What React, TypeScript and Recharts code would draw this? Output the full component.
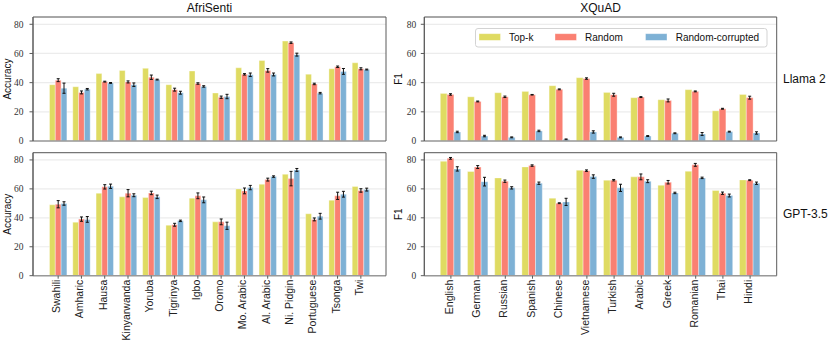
import React from 'react';
import { BarChart, Bar, XAxis, YAxis, CartesianGrid, ErrorBar } from 'recharts';

const afriLangs = ['Swahili', 'Amharic', 'Hausa', 'Kinyarwanda', 'Yoruba', 'Tigrinya', 'Igbo', 'Oromo', 'Mo. Arabic', 'Al. Arabic', 'Ni. Pidgin', 'Portuguese', 'Tsonga', 'Twi'];
const xquadLangs = ['English', 'German', 'Russian', 'Spanish', 'Chinese', 'Vietnamese', 'Turkish', 'Arabic', 'Greek', 'Romanian', 'Thai', 'Hindi'];
const yTicks = [0, 20, 40, 60, 80];
const seriesNames = ['Top-k', 'Random', 'Random-corrupted'];

const llamaAfriTopk = [38.6, 37.2, 46.2, 48.3, 49.8, 38.6, 48.0, 32.9, 50.2, 55.2, 68.5, 45.8, 49.5, 53.6];
const llamaAfriRandom = [41.7, 33.3, 40.7, 40.5, 43.7, 35.2, 39.4, 30.0, 45.7, 48.4, 67.4, 39.1, 50.9, 49.5];
const llamaAfriRandomErr = [1.0, 1.0, 0.3, 0.7, 1.5, 1.0, 0.5, 0.8, 0.5, 1.2, 0.5, 0.5, 0.5, 0.7];
const llamaAfriCorrupted = [36.2, 35.5, 39.8, 38.6, 42.1, 33.1, 37.4, 30.5, 45.4, 45.6, 59.2, 32.8, 47.7, 49.0];
const llamaAfriCorruptedErr = [3.5, 0.5, 0.3, 1.2, 0.3, 1.0, 0.5, 1.5, 1.2, 1.0, 1.0, 0.5, 2.0, 0.3];

const gptAfriTopk = [49.0, 37.0, 57.0, 54.5, 54.0, 34.9, 53.6, 37.2, 60.0, 63.2, 70.1, 42.8, 52.2, 61.6];
const gptAfriRandom = [49.4, 39.1, 61.4, 57.0, 57.2, 35.2, 55.2, 37.2, 58.6, 66.4, 67.1, 38.9, 55.2, 58.9];
const gptAfriRandomErr = [2.5, 1.5, 1.5, 2.5, 1.2, 1.0, 2.0, 2.0, 2.0, 1.0, 5.0, 1.0, 2.5, 1.2];
const gptAfriCorrupted = [49.9, 38.9, 61.8, 55.6, 54.5, 37.9, 52.4, 34.5, 60.9, 68.5, 73.1, 41.1, 56.3, 59.5];
const gptAfriCorruptedErr = [1.2, 2.0, 1.5, 1.0, 1.2, 0.5, 2.0, 2.5, 1.5, 0.5, 1.0, 2.0, 2.0, 1.0];

const llamaXqTopk = [32.6, 30.3, 33.1, 34.0, 37.9, 43.4, 33.3, 29.7, 28.3, 35.2, 20.7, 31.9];
const llamaXqRandom = [31.9, 27.1, 30.3, 31.7, 35.4, 42.8, 31.7, 30.1, 27.8, 34.0, 22.1, 29.7];
const llamaXqRandomErr = [0.5, 0.3, 0.5, 0.2, 0.3, 0.5, 1.0, 0.3, 1.0, 0.3, 0.3, 1.0];
const llamaXqCorrupted = [6.2, 3.4, 2.5, 6.9, 1.1, 6.2, 2.5, 3.4, 5.3, 4.8, 6.4, 5.5];
const llamaXqCorruptedErr = [0.5, 0.5, 0.3, 0.5, 0.3, 0.8, 0.3, 0.3, 0.3, 1.0, 0.3, 0.8];

const gptXqTopk = [79.1, 72.0, 67.6, 75.2, 53.6, 72.9, 66.0, 68.3, 62.5, 72.2, 58.9, 66.2];
const gptXqRandom = [81.1, 75.1, 65.3, 76.1, 50.1, 72.6, 66.0, 68.3, 64.6, 76.6, 57.0, 66.0];
const gptXqRandomErr = [0.6, 1.0, 0.8, 0.5, 0.3, 0.5, 0.5, 2.0, 1.2, 1.0, 0.8, 0.3];
const gptXqCorrupted = [73.8, 65.0, 60.7, 63.9, 51.0, 68.5, 60.7, 65.3, 57.2, 67.6, 55.4, 63.9];
const gptXqCorruptedErr = [1.5, 3.0, 0.8, 0.8, 2.5, 1.2, 2.5, 1.0, 0.5, 0.5, 1.0, 0.8];

const COLORS = ['#dfdb62', '#fa8072', '#7eb1d5'];
const SANS = '"Liberation Sans", Arial, sans-serif';
const SERIF = '"Liberation Serif", "Times New Roman", serif';
const FRAME = '#5a5a5a';

function build(langs: string[], t: number[], r: number[], re: number[], c: number[], ce: number[]) {
  return langs.map((lang, i) => ({ lang, topk: t[i], random: r[i], rErr: re[i], corrupted: c[i], cErr: ce[i] }));
}

const RotTick = (props: any) => {
  const { x, y, payload } = props;
  return (
    <g transform={`translate(${x},${y})`}>
      <text transform="rotate(-90)" x={0} y={2} textAnchor="end" fontSize={10.5} fontFamily={SANS} fill="#222">
        {payload.value}
      </text>
    </g>
  );
};

type PanelProps = {
  data: any[];
  left: number;
  top: number;
  width: number;
  height: number;
  margin: { top: number; right: number; bottom: number; left: number };
  xHeight: number;
  pad: number;
  barSize: number;
  showTicks: boolean;
  tickMargin: number;
};

function Panel(p: PanelProps) {
  return (
    <div style={{ position: 'absolute', left: p.left, top: p.top, width: p.width, height: p.height }}>
      <BarChart width={p.width} height={p.height} data={p.data} margin={p.margin} barGap={0} barSize={p.barSize}>
        <CartesianGrid vertical={false} stroke="#ececec" strokeWidth={1.2} />
        <XAxis
          dataKey="lang"
          type="category"
          height={p.xHeight}
          padding={{ left: p.pad, right: p.pad }}
          axisLine={{ stroke: '#999', strokeWidth: 1.6 }}
          tickLine={p.showTicks ? { stroke: FRAME } : false}
          tickSize={3}
          tickMargin={1}
          tick={p.showTicks ? <RotTick /> : false}
          interval={0}
        />
        <YAxis
          type="number"
          domain={[0, 85]}
          ticks={yTicks}
          width={25}
          allowDataOverflow
          axisLine={{ stroke: FRAME, strokeWidth: 1 }}
          tickLine={{ stroke: FRAME }}
          tickSize={3.5}
          tickMargin={p.tickMargin}
          tick={{ fontSize: 9.5, fontFamily: SERIF, fill: '#333' }}
        />
        <Bar dataKey="topk" fill={COLORS[0]} stroke="#ffffff" strokeOpacity={0.45} strokeWidth={0.8} isAnimationActive={false} />
        <Bar dataKey="random" fill={COLORS[1]} stroke="#ffffff" strokeOpacity={0.45} strokeWidth={0.8} isAnimationActive={false}>
          <ErrorBar dataKey="rErr" direction="y" width={1.5} stroke="#111" strokeWidth={1} />
        </Bar>
        <Bar dataKey="corrupted" fill={COLORS[2]} stroke="#ffffff" strokeOpacity={0.45} strokeWidth={0.8} isAnimationActive={false}>
          <ErrorBar dataKey="cErr" direction="y" width={1.5} stroke="#111" strokeWidth={1} />
        </Bar>
      </BarChart>
    </div>
  );
}

const frames = [
  { x0: 33, x1: 386, y0: 17, y1: 141 },
  { x0: 424.3, x1: 776.7, y0: 17, y1: 141 },
  { x0: 33, x1: 386, y0: 152.7, y1: 275.7 },
  { x0: 424.3, x1: 776.7, y0: 152.7, y1: 275.7 },
];

export default function App() {
  const llamaAfri = build(afriLangs, llamaAfriTopk, llamaAfriRandom, llamaAfriRandomErr, llamaAfriCorrupted, llamaAfriCorruptedErr);
  const gptAfri = build(afriLangs, gptAfriTopk, gptAfriRandom, gptAfriRandomErr, gptAfriCorrupted, gptAfriCorruptedErr);
  const llamaXq = build(xquadLangs, llamaXqTopk, llamaXqRandom, llamaXqRandomErr, llamaXqCorrupted, llamaXqCorruptedErr);
  const gptXq = build(xquadLangs, gptXqTopk, gptXqRandom, gptXqRandomErr, gptXqCorrupted, gptXqCorruptedErr);

  const legendX = [479, 555, 645.5];
  const legendTextX = [509, 585, 675.7];

  return (
    <div style={{ position: 'absolute', left: 0, top: 0, width: 830, height: 346, background: '#fff', overflow: 'hidden' }}>
      <Panel data={llamaAfri} left={0} top={0} width={400} height={150}
        margin={{ top: 17, right: 14, bottom: 8, left: 8 }} xHeight={1} pad={13.5} barSize={5.8} showTicks={false} tickMargin={6} />
      <Panel data={gptAfri} left={0} top={146} width={400} height={200}
        margin={{ top: 6.7, right: 14, bottom: 0, left: 8 }} xHeight={70.3} pad={13.5} barSize={5.8} showTicks={true} tickMargin={6} />
      <Panel data={llamaXq} left={380} top={0} width={450} height={150}
        margin={{ top: 17, right: 53.3, bottom: 8, left: 19.3 }} xHeight={1} pad={13} barSize={6.8} showTicks={false} tickMargin={4.5} />
      <Panel data={gptXq} left={380} top={146} width={450} height={200}
        margin={{ top: 6.7, right: 53.3, bottom: 0, left: 19.3 }} xHeight={70.3} pad={13} barSize={6.8} showTicks={true} tickMargin={4.5} />

      <svg width={830} height={346} style={{ position: 'absolute', left: 0, top: 0, pointerEvents: 'none' }}>
        {frames.map((f, i) => (
          <polyline key={i} points={`${f.x0},${f.y1} ${f.x0},${f.y0} ${f.x1},${f.y0} ${f.x1},${f.y1}`}
            fill="none" stroke={FRAME} strokeWidth={1} />
        ))}
        <g fontFamily={SANS} fill="#111">
          <text x={209.5} y={12} fontSize={12} textAnchor="middle">AfriSenti</text>
          <text x={600.5} y={12} fontSize={12} textAnchor="middle">XQuAD</text>
          <text x={783} y={83.3} fontSize={12}>Llama 2</text>
          <text x={783} y={217.7} fontSize={12}>GPT-3.5</text>
          <text x={10.8} y={79} fontSize={10} textAnchor="middle" transform="rotate(-90 10.8 79)">Accuracy</text>
          <text x={10.8} y={214.2} fontSize={10} textAnchor="middle" transform="rotate(-90 10.8 214.2)">Accuracy</text>
          <text x={402.3} y={79} fontSize={10} textAnchor="middle" transform="rotate(-90 402.3 79)">F1</text>
          <text x={402.3} y={214.2} fontSize={10} textAnchor="middle" transform="rotate(-90 402.3 214.2)">F1</text>
        </g>
        <rect x={475.5} y={28.5} width={291.5} height={18.5} rx={2.5} fill="#fff" fillOpacity={0.85} stroke="#d3d3d3" strokeWidth={1} />
        {seriesNames.map((name, i) => (
          <g key={name}>
            <rect x={legendX[i]} y={33.7} width={21.5} height={6.7} fill={COLORS[i]} stroke="#fff" strokeOpacity={0.45} strokeWidth={0.8} />
            <text x={legendTextX[i]} y={40.5} fontSize={10} fontFamily={SANS} fill="#111">{name}</text>
          </g>
        ))}
      </svg>
    </div>
  );
}
